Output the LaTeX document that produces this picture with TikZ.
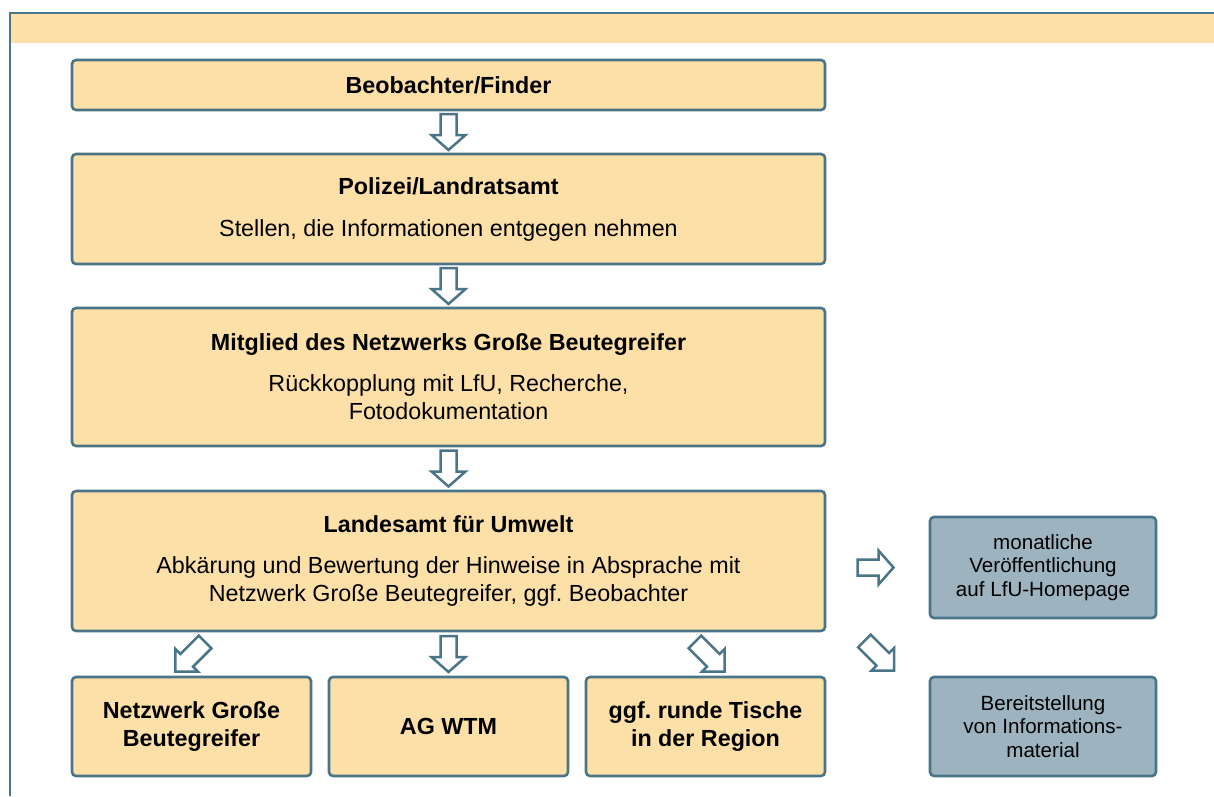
\documentclass[tikz,border=0pt]{standalone}
\usepackage{fontspec}
\setmainfont{Liberation Sans}
\usetikzlibrary{calc}
\definecolor{beige}{HTML}{FDE0A8}
\definecolor{framec}{HTML}{4A7488}
\definecolor{grayblue}{HTML}{9DB4C0}
\frenchspacing
\tikzset{
  box/.style={draw=framec, line width=2.6pt, fill=beige, rounded corners=4pt, align=center,
    font=\fontsize{23.3}{28}\selectfont, inner sep=0pt},
  gbox/.style={box, fill=grayblue, font=\fontsize{20.6}{23.5}\selectfont},
  barrow/.pic={\draw[framec, line width=2.5pt, fill=white, line join=miter]
    (-8,-18) -- (8,-18) -- (8,3) -- (17,3) -- (0,18) -- (-17,3) -- (-8,3) -- cycle;},
  darrow/.pic={\draw[framec, line width=2.5pt, fill=white, line join=miter]
    (-9,-22) -- (9,-22) -- (9,4) -- (16,4) -- (0,20) -- (-16,4) -- (-9,4) -- cycle;}
}
\begin{document}
\begin{tikzpicture}[x=1pt,y=-1pt]
\useasboundingbox (0,0) rectangle (1214,796);
% frame and header
\fill[beige] (11,14) rectangle (1214,43);
\draw[framec, line width=2pt] (10,796) -- (10,13) -- (1214,13);
% main boxes
\node[box, minimum width=753pt, minimum height=50pt] (b1) at (448.5,85) {\textbf{Beobachter/Finder}};
\node[box, minimum width=753pt, minimum height=110pt] (b2) at (448.5,209)
  {\textbf{Polizei/Landratsamt}\\[14pt] Stellen, die Informationen entgegen nehmen};
\node[box, minimum width=753pt, minimum height=138pt] (b3) at (448.5,377)
  {\textbf{Mitglied des Netzwerks Große Beutegreifer}\\[13pt] Rückkopplung mit LfU, Recherche,\\ Fotodokumentation};
\node[box, minimum width=753pt, minimum height=140pt] (b4) at (448.5,561)
  {\textbf{Landesamt für Umwelt}\\[13pt] Abkärung und Bewertung der Hinweise in Absprache mit\\ Netzwerk Große Beutegreifer, ggf. Beobachter};
% bottom boxes
\node[box, minimum width=239pt, minimum height=99pt] (n1) at (191.5,726.5) {\textbf{Netzwerk Große}\\ \textbf{Beutegreifer}};
\node[box, minimum width=239pt, minimum height=99pt] (n2) at (448.5,726.5) {\textbf{AG WTM}};
\node[box, minimum width=239pt, minimum height=99pt] (n3) at (705.5,726.5) {\textbf{ggf. runde Tische}\\ \textbf{in der Region}};
% grey boxes
\node[gbox, minimum width=226pt, minimum height=101pt] (g1) at (1043,567.5) {monatliche\\ Veröffentlichung\\ auf LfU-Homepage};
\node[gbox, minimum width=226pt, minimum height=99pt] (g2) at (1043,726.5) {Bereitstellung\\ von Informations-\\ material};
% arrows
\coordinate (a12) at ($(b1.south)!0.5!(b2.north)$);
\coordinate (a23) at ($(b2.south)!0.5!(b3.north)$);
\coordinate (a34) at ($(b3.south)!0.5!(b4.north)$);
\coordinate (a4n1) at ($(b4.south -| n1.north)!0.5!(n1.north)$);
\coordinate (a4n2) at ($(b4.south)!0.5!(n2.north)$);
\coordinate (a4n3) at ($(b4.south -| n3.north)!0.5!(n3.north)$);
\coordinate (a4g1) at ($(b4.east |- g1.west)!0.5!(g1.west)$);
\coordinate (a4g2) at ($(b4.south east)!0.5!(g2.north west)$);
\pic at (a12) {barrow};
\pic at (a23) {barrow};
\pic at (a34) {barrow};
\pic at (a4n2) {barrow};
\pic[rotate=90] at ($(a4g1)+(-2,0)$) {barrow};
\pic[rotate=-45] at ($(a4n1)+(-2,3.5)$) {darrow};
\pic[rotate=45] at ($(a4n3)+(5,3.5)$) {darrow};
\pic[rotate=45] at ($(a4g2)+(2.5,2.5)$) {darrow};
\end{tikzpicture}
\end{document}
